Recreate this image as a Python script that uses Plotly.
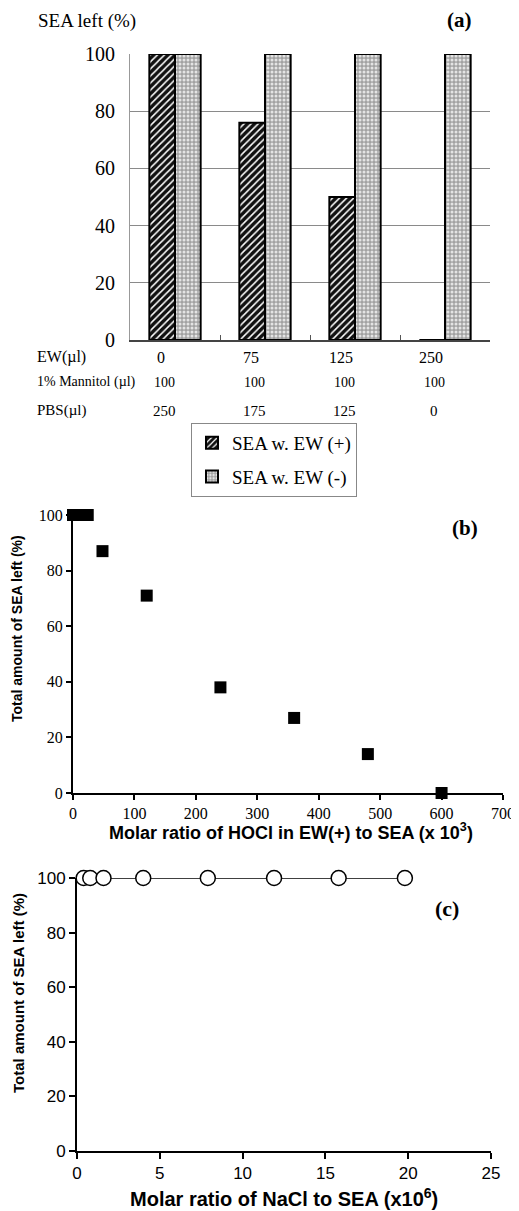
import plotly.graph_objects as go

# Page has an 8px body margin: figure is drawn at (8, 8) inside the 519x1211 window.
OFF = 8
W, H = 519 - OFF, 1211 - OFF

# ---- Panel (a) data ----
ew_ul = ["0", "75", "125", "250"]
mannitol_ul = ["100", "100", "100", "100"]
pbs_ul = ["250", "175", "125", "0"]
sea_ew_plus = [100, 76, 50, 0]
sea_ew_minus = [100, 100, 100, 100]

# ---- Panel (b) data ----
hocl_ratio = [0, 6, 12, 18, 24, 48, 120, 240, 360, 480, 600]
sea_left_b = [100, 100, 100, 100, 100, 87, 71, 38, 27, 14, 0]

# ---- Panel (c) data ----
nacl_ratio = [0.4, 0.8, 1.6, 4.0, 7.9, 11.9, 15.8, 19.8]
sea_left_c = [100, 100, 100, 100, 100, 100, 100, 100]

SERIF = "Liberation Serif, Times New Roman, serif"
SANS = "Liberation Sans, Arial, sans-serif"


def py(p):
    return 1 - (p - OFF) / H


def px_(p):
    return (p - OFF) / W


fig = go.Figure()

fig.add_trace(go.Bar(
    x=ew_ul, y=sea_ew_plus, name="SEA w. EW (+)", legendgroup="plus",
    marker=dict(color="#111111", line=dict(color="black", width=2),
                pattern=dict(shape="/", fillmode="overlay", bgcolor="#111111",
                             fgcolor="white", fgopacity=1, size=5, solidity=0.3)),
    xaxis="x", yaxis="y"))
fig.add_trace(go.Bar(
    x=ew_ul, y=sea_ew_minus, name="SEA w. EW (-)", legendgroup="minus",
    marker=dict(color="#a2a2a2", line=dict(color="black", width=2),
                pattern=dict(shape=".", fillmode="overlay", bgcolor="#a2a2a2",
                             fgcolor="#e4e4e4", fgopacity=1, size=4, solidity=0.45)),
    xaxis="x", yaxis="y"))

fig.add_trace(go.Scatter(
    x=hocl_ratio, y=sea_left_b, mode="markers", showlegend=False,
    marker=dict(symbol="square", size=12, color="black"),
    cliponaxis=False, xaxis="x2", yaxis="y2"))

fig.add_trace(go.Scatter(
    x=nacl_ratio, y=sea_left_c, mode="lines+markers", showlegend=False,
    line=dict(color="black", width=1.5),
    marker=dict(symbol="circle", size=15, color="white", line=dict(color="black", width=1.5)),
    cliponaxis=False, xaxis="x3", yaxis="y3"))

annotations = []
# Panel (a) titles
annotations.append(dict(text="SEA left (%)", x=px_(36), y=py(21), xref="paper", yref="paper",
                        xanchor="left", yanchor="middle", showarrow=False,
                        font=dict(family=SERIF, size=19, color="black")))
annotations.append(dict(text="<b>(a)</b>", x=px_(474), y=py(20), xref="paper", yref="paper",
                        xanchor="right", yanchor="middle", showarrow=False,
                        font=dict(family=SERIF, size=21, color="black")))

# Table below panel (a)
rows = [("EW(µl)", ew_ul, 357, 16, -14),
        ("1% Mannitol (µl)", mannitol_ul, 382, 14, -11),
        ("PBS(µl)", pbs_ul, 411, 15, -11)]
for label, vals, ypx, fs, shift in rows:
    annotations.append(dict(text=label, x=px_(35), y=py(ypx), xref="paper", yref="paper",
                            xanchor="left", yanchor="middle", showarrow=False,
                            font=dict(family=SERIF, size=fs, color="black")))
    for i, v in enumerate(vals):
        annotations.append(dict(text=v, x=i, y=py(ypx), xref="x", yref="paper",
                                xanchor="center", yanchor="middle", showarrow=False, xshift=shift,
                                font=dict(family=SERIF, size=fs, color="black")))

# Panel (b) labels
annotations.append(dict(text="<b>(b)</b>", x=px_(465), y=py(528), xref="paper", yref="paper",
                        xanchor="center", yanchor="middle", showarrow=False,
                        font=dict(family=SERIF, size=21, color="black")))
annotations.append(dict(text="<b>Total amount of SEA left (%)</b>", x=px_(17), y=py(629),
                        xref="paper", yref="paper", textangle=-90,
                        xanchor="center", yanchor="middle", showarrow=False,
                        font=dict(family=SANS, size=14, color="black")))
annotations.append(dict(text="<b>Molar ratio of HOCl in EW(+) to SEA (x 10<sup>3</sup>)</b>",
                        x=px_(291), y=py(831), xref="paper", yref="paper",
                        xanchor="center", yanchor="middle", showarrow=False,
                        font=dict(family=SANS, size=18, color="black")))

# Panel (c) labels
annotations.append(dict(text="<b>(c)</b>", x=px_(447), y=py(908), xref="paper", yref="paper",
                        xanchor="center", yanchor="middle", showarrow=False,
                        font=dict(family=SERIF, size=22, color="black")))
annotations.append(dict(text="<b>Total amount of SEA left (%)</b>", x=px_(18), y=py(993),
                        xref="paper", yref="paper", textangle=-90,
                        xanchor="center", yanchor="middle", showarrow=False,
                        font=dict(family=SANS, size=15, color="black")))
annotations.append(dict(text="<b>Molar ratio of NaCl to SEA (x10<sup>6</sup>)</b>",
                        x=px_(284), y=py(1197), xref="paper", yref="paper",
                        xanchor="center", yanchor="middle", showarrow=False,
                        font=dict(family=SANS, size=20, color="black")))

common_off = dict(automargin=False, zeroline=False, showgrid=False)

fig.update_layout(
    template="none",
    width=W, height=H, margin=dict(l=0, r=0, t=0, b=0, pad=0),
    paper_bgcolor="white", plot_bgcolor="white",
    barmode="group", bargap=0.43, bargroupgap=0,
    font=dict(family=SERIF, color="black"),
    annotations=annotations,
    legend=dict(x=px_(191), y=py(423), xanchor="left", yanchor="top",
                bordercolor="#888", borderwidth=1, bgcolor="white",
                font=dict(family=SERIF, size=19, color="black"),
                itemwidth=30, tracegroupgap=6),
    # Panel (a)
    xaxis=dict(domain=[px_(130), px_(490)], anchor="y", type="category",
               range=[-0.5, 3.5], showticklabels=False, tickson="boundaries",
               ticks="inside", ticklen=5, tickcolor="#555", showline=True,
               linecolor="#444", linewidth=1.5, **common_off),
    yaxis=dict(domain=[py(340), py(54)], anchor="x", range=[0, 100],
               tickvals=[0, 20, 40, 60, 80, 100], ticks="", ticklabelstandoff=10,
               tickfont=dict(family=SERIF, size=20, color="black"),
               showline=True, linecolor="#999", linewidth=1,
               minor=dict(tickvals=[20, 40, 60, 80], showgrid=True, gridcolor="#8a8a8a",
                          gridwidth=1, ticks=""),
               automargin=False, zeroline=False, showgrid=False),
    # Panel (b)
    xaxis2=dict(domain=[px_(73), px_(503)], anchor="y2", range=[0, 700],
                tickvals=[0, 100, 200, 300, 400, 500, 600, 700],
                ticks="outside", ticklen=5, tickwidth=1.5, tickcolor="black",
                tickfont=dict(family=SERIF, size=16, color="black"),
                showline=True, linecolor="black", linewidth=2, **common_off),
    yaxis2=dict(domain=[py(793), py(515)], anchor="x2", range=[0, 100],
                tickvals=[0, 20, 40, 60, 80, 100],
                ticks="outside", ticklen=5, tickwidth=1.5, tickcolor="black",
                tickfont=dict(family=SERIF, size=16, color="black"),
                showline=True, linecolor="black", linewidth=2, **common_off),
    # Panel (c)
    xaxis3=dict(domain=[px_(77), px_(491)], anchor="y3", range=[0, 25],
                tickvals=[0, 5, 10, 15, 20, 25],
                ticks="outside", ticklen=6, tickwidth=2, tickcolor="black",
                tickfont=dict(family=SANS, size=17, color="black"),
                showline=True, linecolor="black", linewidth=2, **common_off),
    yaxis3=dict(domain=[py(1151), py(878)], anchor="x3", range=[0, 100],
                tickvals=[0, 20, 40, 60, 80, 100],
                ticks="outside", ticklen=6, tickwidth=1.5, tickcolor="black",
                tickfont=dict(family=SANS, size=17, color="black"),
                showline=True, linecolor="black", linewidth=2, **common_off),
)

fig.write_html("out.html")
